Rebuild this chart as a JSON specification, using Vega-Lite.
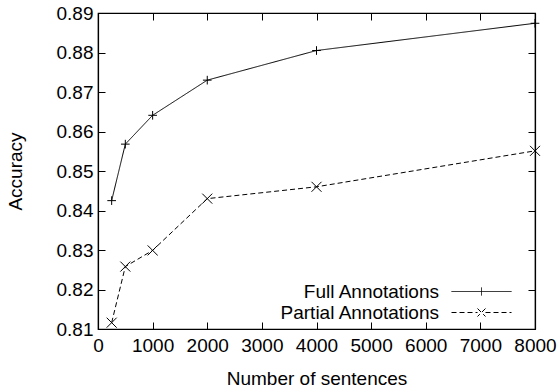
{
  "$schema": "https://vega.github.io/schema/vega-lite/v6.json",
  "width": 437,
  "height": 316,
  "autosize": "none",
  "padding": {"left": 98, "top": 13, "right": 23, "bottom": 63},
  "background": "white",
  "config": {
    "font": "Liberation Sans",
    "view": {"stroke": "black", "strokeWidth": 1.2},
    "axis": {
      "grid": false,
      "domainColor": "black",
      "domainWidth": 1.2,
      "tickColor": "black",
      "tickWidth": 1,
      "tickSize": -7,
      "labelColor": "black",
      "labelFont": "Liberation Sans",
      "labelFontSize": 19,
      "titleFont": "Liberation Sans",
      "titleFontSize": 19,
      "titleFontWeight": "normal",
      "titleColor": "black"
    }
  },
  "data": {
    "values": [
      {"n": 250, "acc": 0.8425, "series": "Full Annotations"},
      {"n": 500, "acc": 0.8568, "series": "Full Annotations"},
      {"n": 1000, "acc": 0.8641, "series": "Full Annotations"},
      {"n": 2000, "acc": 0.8730, "series": "Full Annotations"},
      {"n": 4000, "acc": 0.8805, "series": "Full Annotations"},
      {"n": 8000, "acc": 0.8874, "series": "Full Annotations"},
      {"n": 250, "acc": 0.8116, "series": "Partial Annotations"},
      {"n": 500, "acc": 0.8258, "series": "Partial Annotations"},
      {"n": 1000, "acc": 0.8299, "series": "Partial Annotations"},
      {"n": 2000, "acc": 0.8430, "series": "Partial Annotations"},
      {"n": 4000, "acc": 0.8460, "series": "Partial Annotations"},
      {"n": 8000, "acc": 0.8551, "series": "Partial Annotations"}
    ]
  },
  "layer": [
    {
      "mark": {"type": "line", "color": "black", "strokeWidth": 1, "clip": false},
      "encoding": {
        "x": {
          "field": "n", "type": "quantitative",
          "scale": {"domain": [0, 8000], "nice": false, "zero": false},
          "axis": {"orient": "bottom", "values": [0,1000,2000,3000,4000,5000,6000,7000,8000], "format": "d", "title": "Number of sentences", "labelPadding": 14, "titlePadding": 14, "labelFlush": false, "labelOverlap": false}
        },
        "y": {
          "field": "acc", "type": "quantitative",
          "scale": {"domain": [0.81, 0.89], "nice": false, "zero": false},
          "axis": {"orient": "left", "values": [0.81,0.82,0.83,0.84,0.85,0.86,0.87,0.88,0.89], "format": ".2f", "title": "Accuracy", "labelPadding": 12, "titlePadding": 31, "labelFlush": false, "labelOverlap": false}
        },
        "strokeDash": {
          "field": "series", "type": "nominal",
          "scale": {"domain": ["Full Annotations", "Partial Annotations"], "range": [[1, 0], [5, 3]]},
          "legend": {
            "title": null,
            "orient": "none",
            "legendX": 373,
            "legendY": 268,
            "symbolType": "M-3,0H3",
            "symbolSize": 400,
            "symbolStrokeColor": "black",
            "symbolStrokeWidth": 1,
            "labelAlign": "right",
            "labelOffset": -53,
            "labelFontSize": 19,
            "labelColor": "black",
            "labelFont": "Liberation Sans",
            "rowPadding": -20,
            "padding": 0,
            "encode": {
              "symbols": {
                "update": {
                  "shape": {"signal": "datum.value === 'Full Annotations' ? 'M-3,0H3M0,-0.4V0.4' : 'M-3,0H-0.4M-0.4,-0.4L0.4,0.4M0.4,-0.4L-0.4,0.4M0.4,0H3'"},
                  "fill": {"value": "transparent"}
                }
              }
            }
          }
        }
      }
    },
    {
      "transform": [{"filter": "datum.series === 'Full Annotations'"}],
      "mark": {"type": "point", "filled": false, "color": "black", "strokeWidth": 1, "size": 75, "opacity": 1, "clip": false, "shape": "M-1,0H1M0,-1V1"},
      "encoding": {
        "x": {
          "field": "n", "type": "quantitative",
          "axis": {"orient": "top", "values": [0,1000,2000,3000,4000,5000,6000,7000,8000], "labels": false, "title": null}
        },
        "y": {
          "field": "acc", "type": "quantitative",
          "axis": {"orient": "right", "values": [0.81,0.82,0.83,0.84,0.85,0.86,0.87,0.88,0.89], "labels": false, "title": null}
        }
      }
    },
    {
      "transform": [{"filter": "datum.series === 'Partial Annotations'"}],
      "mark": {"type": "point", "filled": false, "color": "black", "strokeWidth": 1, "size": 100, "opacity": 1, "clip": false, "shape": "M-1,-1L1,1M1,-1L-1,1"},
      "encoding": {
        "x": {"field": "n", "type": "quantitative", "axis": null},
        "y": {"field": "acc", "type": "quantitative", "axis": null}
      }
    }
  ]
}
